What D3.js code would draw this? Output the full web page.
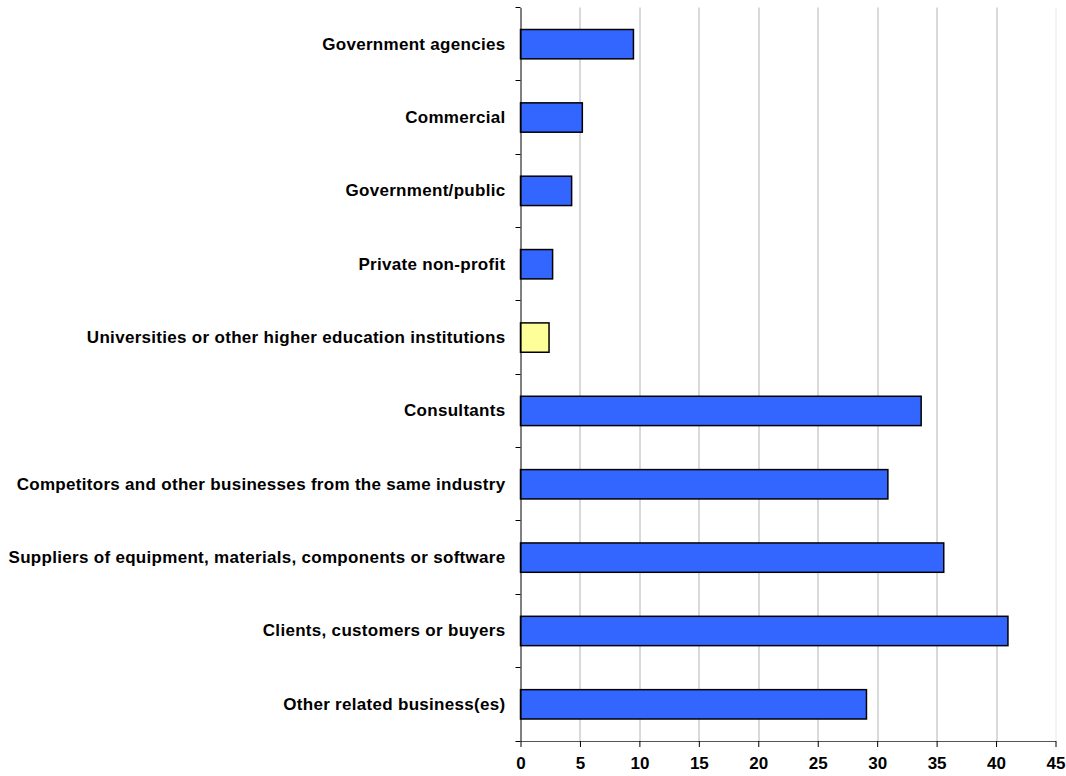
<!DOCTYPE html>
<html lang="en">
<head>
    <meta charset="UTF-8">
    <title>Cooperation partners</title>
    <script src="https://d3js.org/d3.v7.min.js"></script>
    <style>
        body { margin: 0; background: #fff; }
        text { font-family: "Liberation Sans", Arial, sans-serif; font-weight: bold; fill: #000; }
    </style>
</head>
<body>
    <div id="chart-container"></div>
    <script>
        // chart data
        const categories = [
            "Government agencies",
            "Commercial",
            "Government/public",
            "Private non-profit",
            "Universities or other higher education institutions",
            "Consultants",
            "Competitors and other businesses from the same industry",
            "Suppliers of equipment, materials, components or software",
            "Clients, customers or buyers",
            "Other related business(es)"
        ];
        const values = [9.5, 5.2, 4.3, 2.7, 2.4, 33.7, 30.9, 35.6, 41.0, 29.1];
        const highlighted = ["Universities or other higher education institutions"];
        const xTicks = [0, 5, 10, 15, 20, 25, 30, 35, 40, 45];

        const containerWidth = 1066;
        const containerHeight = 776;
        const margins = { top: 7.5, right: 10.5, bottom: 35, left: 520.5 };
        const width = containerWidth - margins.left - margins.right;
        const height = containerHeight - margins.top - margins.bottom;

        const svg = d3.select("#chart-container")
            .append("svg")
            .attr("width", containerWidth)
            .attr("height", containerHeight)
            .append("g")
            .attr("transform", `translate(${margins.left},${margins.top})`);

        const x = d3.scaleLinear()
            .domain([0, 45])
            .range([0, width]);

        const y = d3.scaleBand()
            .domain(categories)
            .range([0, height])
            .paddingInner(0.6)
            .paddingOuter(0.3);

        // vertical gridlines
        svg.append("g")
            .selectAll("line")
            .data(xTicks.filter(d => d > 0))
            .enter()
            .append("line")
            .attr("x1", d => Math.round(x(d)) + 0.5)
            .attr("x2", d => Math.round(x(d)) + 0.5)
            .attr("y1", 0)
            .attr("y2", height)
            .attr("stroke", d => d === 45 ? "#e8e8e8" : "#b4b4b4")
            .attr("stroke-width", 1);

        // bars
        svg.selectAll(".bar")
            .data(categories)
            .enter()
            .append("rect")
            .attr("class", "bar")
            .attr("x", 0)
            .attr("y", d => y(d))
            .attr("width", (d, i) => x(values[i]))
            .attr("height", y.bandwidth())
            .attr("fill", d => highlighted.includes(d) ? "#ffff99" : "#3366ff")
            .attr("stroke", "#000")
            .attr("stroke-width", 1.5);

        // y axis: labels
        const yAxis = svg.append("g")
            .attr("class", "axis axis-y")
            .call(d3.axisLeft(y).tickSize(0).tickPadding(15));
        yAxis.select(".domain").attr("stroke", "#000");
        yAxis.selectAll("text")
            .style("font-size", "17px")
            .style("letter-spacing", "0.3px")
            .attr("font-family", null);

        // y axis: ticks on category boundaries
        const step = y.step();
        const bounds = d3.range(categories.length + 1).map(i => i * step);
        svg.append("g")
            .selectAll("line")
            .data(bounds)
            .enter()
            .append("line")
            .attr("x1", -5)
            .attr("x2", 0)
            .attr("y1", d => Math.round(d))
            .attr("y2", d => Math.round(d))
            .attr("stroke", "#000");

        // x axis
        const xAxis = svg.append("g")
            .attr("class", "axis axis-x")
            .attr("transform", `translate(0, ${height})`)
            .call(d3.axisBottom(x).tickValues(xTicks).tickSize(6).tickSizeOuter(0).tickPadding(10));
        xAxis.select(".domain").attr("stroke", "#555");
        xAxis.selectAll(".tick line").attr("stroke", "#000");
        xAxis.selectAll("text")
            .style("font-size", "17px")
            .attr("font-family", null);
    </script>
</body>
</html>
